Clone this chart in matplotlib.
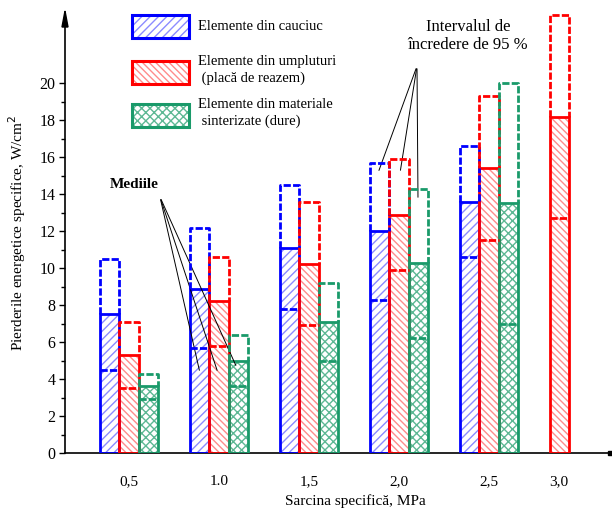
import numpy as np
import matplotlib.pyplot as plt
from matplotlib.patches import Rectangle, Polygon

plt.rcParams['font.family'] = ['Liberation Serif', 'DejaVu Serif']
plt.rcParams['hatch.linewidth'] = 1.0

# data: specific load groups, means and 95 % confidence limits
labels = ['0,5', '1.0', '1,5', '2,0', '2,5', '3,0']
pos = [0, 1, 2, 3, 4, 4.78]

rubber_mean = [7.5, 8.9, 11.1, 12.0, 13.6, np.nan]
rubber_lo = [4.5, 5.7, 7.8, 8.3, 10.6, np.nan]
rubber_hi = [10.5, 12.2, 14.5, 15.7, 16.6, np.nan]

filler_mean = [5.3, 8.2, 10.2, 12.9, 15.4, 18.2]
filler_lo = [3.5, 5.8, 6.9, 9.9, 11.5, 12.7]
filler_hi = [7.1, 10.6, 13.6, 15.9, 19.3, 23.7]

sint_mean = [3.6, 5.0, 7.1, 10.3, 13.5, np.nan]
sint_lo = [2.9, 3.6, 5.0, 6.2, 7.0, np.nan]
sint_hi = [4.3, 6.4, 9.2, 14.3, 20.0, np.nan]

series = [
    ('Elemente din cauciuc', rubber_mean, rubber_lo, rubber_hi, '#0000FF', '#8C8CFF', '////', -1),
    ('Elemente din umpluturi\n (placă de reazem)', filler_mean, filler_lo, filler_hi, '#FF0000', '#FF8C8C', '\\\\\\\\\\', 0),
    ('Elemente din materiale\n sinterizate (dure)', sint_mean, sint_lo, sint_hi, '#1A9A6A', '#5DB894', 'xxxx', 1),
]

W, H = 612, 508
fig = plt.figure(figsize=(W / 100, H / 100), dpi=100)
ax_l, ax_r, ax_t, ax_b = 65, 610, 12, 453
ax = fig.add_axes([ax_l / W, 1 - ax_b / H, (ax_r - ax_l) / W, (ax_b - ax_t) / H])

bw = 0.215
dash = (0, (2.6, 0.8))
for name, mean, lo, hi, c, hc, hatch, off in series:
    for g, m, l, h in zip(pos, mean, lo, hi):
        if np.isnan(m):
            continue
        x = g + off * bw
        ax.bar(x, m, bw, color='white', hatch=hatch, edgecolor=hc, linewidth=0, zorder=2)
        ax.bar(x, m, bw, fill=False, edgecolor=c, linewidth=2.0, zorder=3)
        ax.plot([x - bw / 2, x + bw / 2], [l, l], color=c, lw=2.0, ls=dash, zorder=4)
        ax.plot([x - bw / 2, x - bw / 2, x + bw / 2, x + bw / 2], [m, h, h, m],
                color=c, lw=2.0, ls=dash, zorder=4, clip_on=False)

ax.set_xlim((ax_l - 129) / 90, (ax_r - 129) / 90)
ax.set_ylim(0, 23.86)
ax.spines['top'].set_visible(False)
ax.spines['right'].set_visible(False)
ax.spines['left'].set_linewidth(1.2)
ax.spines['bottom'].set_linewidth(1.2)
ax.set_yticks(np.arange(0, 21, 2))
ax.set_yticks(np.arange(1, 20, 2), minor=True)
ax.tick_params(axis='y', which='major', length=4, width=1, labelsize=11.5, pad=3)
ax.tick_params(axis='y', which='minor', length=3, width=1)
ax.set_xticks(pos)
ax.set_xticklabels(labels)
ax.tick_params(axis='x', length=0, labelsize=11, pad=16)

ax.set_ylabel('Pierderile energetice specifice, W/cm$^2$', fontsize=11, labelpad=8)
fig.text(355 / W, 1 - 501 / H, 'Sarcina specifică, MPa', ha='center', va='center', fontsize=11)

# axis arrow heads
fig.add_artist(Polygon([(ax_l / W, 1 - 11 / H), ((ax_l - 3) / W, 1 - 27 / H), ((ax_l + 3) / W, 1 - 27 / H)],
                       closed=True, color='black', transform=fig.transFigure))
fig.add_artist(Rectangle(((ax_r - 2) / W, 1 - (ax_b + 2) / H), 4 / W, 4 / H,
                         color='black', transform=fig.transFigure))

# legend boxes drawn by hand
leg_y = [15, 61, 104]
for (name, mean, lo, hi, c, hc, hatch, off), y in zip(series, leg_y):
    r1 = Rectangle((132 / W, 1 - (y + 23) / H), 57 / W, 23 / H, facecolor='white', hatch=hatch,
                   edgecolor=hc, linewidth=0, transform=fig.transFigure)
    r2 = Rectangle((132 / W, 1 - (y + 23) / H), 57 / W, 23 / H, fill=False,
                   edgecolor=c, linewidth=2.2, transform=fig.transFigure)
    fig.add_artist(r1)
    fig.add_artist(r2)
    ty = y + 11 if '\n' not in name else y + 9
    fig.text(198 / W, 1 - ty / H, name, ha='left', va='center', fontsize=10.5, linespacing=1.25)


def px(x, y):
    return ((x - 129) / 90, (453 - y) / 18.485)


# annotations
for end in [(200, 373), (218, 373), (237, 368)]:
    ax.annotate('', xy=px(*end), xytext=px(160, 197),
                arrowprops=dict(arrowstyle='-', color='black', lw=0.7), annotation_clip=False)
ax.text(*px(134, 184), 'Mediile', ha='center', va='center', fontsize=11, fontweight='bold')

for end in [(378, 173), (400, 173), (418, 200)]:
    ax.annotate('', xy=px(*end), xytext=px(417, 66),
                arrowprops=dict(arrowstyle='-', color='black', lw=0.7), annotation_clip=False)
ax.text(*px(468, 36), 'Intervalul de\nîncredere de 95 %', ha='center', va='center',
        fontsize=12, linespacing=1.2, clip_on=False)

plt.savefig('out.png', dpi=100, facecolor='white')
